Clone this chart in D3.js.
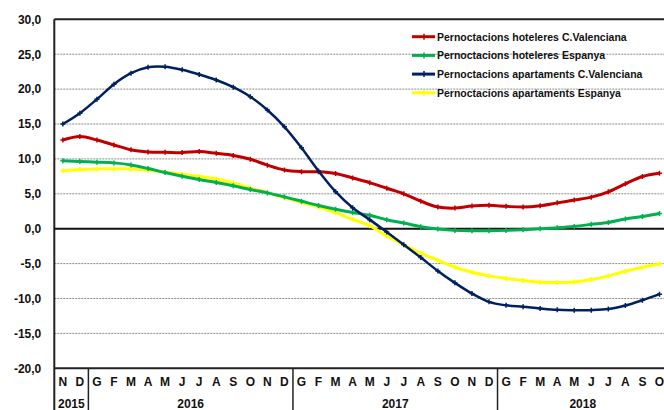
<!DOCTYPE html>
<html><head><meta charset="utf-8">
<script src="https://cdn.jsdelivr.net/npm/d3@7"></script>
<style>body{margin:0;background:#fff}svg{display:block}</style>
</head><body>
<svg id="c" width="664" height="410"></svg>
<script>
const months = ["N","D","G","F","M","A","M","J","J","A","S","O","N","D","G","F","M","A","M","J","J","A","S","O","N","D","G","F","M","A","M","J","J","A","S","O"];
const years = [{label:"2015",n:2},{label:"2016",n:12},{label:"2017",n:12},{label:"2018",n:10}];
const yTicks = [30,25,20,15,10,5,0,-5,-10,-15,-20];
const hotelesCV = [12.7,13.2,12.7,12.0,11.3,11.0,10.95,10.9,11.05,10.8,10.5,9.95,9.1,8.4,8.17,8.15,7.9,7.27,6.6,5.8,5.0,3.95,3.1,2.95,3.24,3.35,3.2,3.1,3.29,3.7,4.1,4.52,5.29,6.43,7.48,7.95];
const hotelesES = [9.72,9.62,9.53,9.43,9.14,8.62,8.05,7.52,7.04,6.62,6.14,5.61,5.13,4.56,3.94,3.32,2.79,2.32,1.92,1.29,0.81,0.29,-0.05,-0.24,-0.29,-0.29,-0.24,-0.14,0.0,0.14,0.33,0.62,0.9,1.38,1.76,2.19];
const apartCV = [15.0,16.55,18.55,20.7,22.28,23.14,23.2,22.76,22.1,21.3,20.27,18.9,17.0,14.6,11.6,8.27,5.3,3.0,1.3,-0.48,-2.29,-4.14,-6.05,-7.76,-9.29,-10.48,-10.98,-11.19,-11.43,-11.62,-11.67,-11.67,-11.52,-11.0,-10.24,-9.38];
const apartES = [8.29,8.48,8.57,8.57,8.57,8.38,8.14,7.81,7.47,7.13,6.55,5.83,5.17,4.45,3.78,3.11,2.3,1.34,0.43,-1.05,-2.29,-3.52,-4.52,-5.52,-6.24,-6.76,-7.12,-7.43,-7.67,-7.71,-7.62,-7.29,-6.76,-6.1,-5.52,-5.05];
const seriesNames = ["Pernoctacions hoteleres C.Valenciana","Pernoctacions hoteleres Espanya","Pernoctacions apartaments C.Valenciana","Pernoctacions apartaments Espanya"];
const seriesColors = ["#C00000","#00B050","#002060","#FFFF00"];
const seriesData = [hotelesCV, hotelesES, apartCV, apartES];

const svg = d3.select("#c");
const L = 54.3, T = 19.3, B = 368.3, R = 668;
const x = d3.scaleBand().domain(d3.range(months.length)).range([L, R]).paddingInner(0).paddingOuter(0);
const y = d3.scaleLinear().domain([-20, 30]).range([B, T]);
const cx = i => x(i) + x.bandwidth()/2;

// gridlines
svg.append("g").selectAll("line").data(yTicks.filter(v => v !== 30 && v !== 0 && v !== -20)).join("line")
  .attr("x1", L).attr("x2", 664).attr("y1", d => y(d)).attr("y2", d => y(d))
  .attr("stroke", "#8c8c8c").attr("stroke-width", 1).attr("stroke-dasharray", "2,1");

// y labels
const yAxis = d3.axisLeft(y).tickValues(yTicks).tickSize(0).tickPadding(13)
  .tickFormat(d => d3.format(".1f")(d).replace(".", ",").replace("−","-"));
const ga = svg.append("g").attr("transform", `translate(${L},0)`).call(yAxis);
ga.select(".domain").remove();
ga.selectAll("text").attr("font-family", "Liberation Sans, Arial, sans-serif").attr("font-weight", "bold")
  .attr("font-size", 12).attr("fill", "#111");

// frame
svg.append("line").attr("x1", L).attr("x2", 664).attr("y1", T).attr("y2", T).attr("stroke", "#222").attr("stroke-width", 2);
svg.append("line").attr("x1", L).attr("x2", 664).attr("y1", B).attr("y2", B).attr("stroke", "#222").attr("stroke-width", 2);
svg.append("line").attr("x1", L).attr("x2", L).attr("y1", T).attr("y2", 410).attr("stroke", "#222").attr("stroke-width", 2);
svg.append("line").attr("x1", L).attr("x2", 664).attr("y1", y(0)).attr("y2", y(0)).attr("stroke", "#111").attr("stroke-width", 2);

// month labels
svg.append("g").selectAll("text").data(months).join("text")
  .attr("x", (d,i) => cx(i)).attr("y", 386).attr("text-anchor", "middle")
  .attr("font-family", "Liberation Sans, Arial, sans-serif").attr("font-weight", "bold").attr("font-size", 12).attr("fill", "#111")
  .text(d => d);

// year separators & labels
let start = 0;
years.forEach((yr, k) => {
  const x0 = x(start), x1 = start + yr.n < months.length ? x(start + yr.n) : R;
  if (k > 0) svg.append("line").attr("x1", x0).attr("x2", x0).attr("y1", B).attr("y2", 410).attr("stroke", "#222").attr("stroke-width", 1.5);
  svg.append("text").attr("x", (x0 + x1)/2).attr("y", 407.5).attr("text-anchor", "middle")
    .attr("font-family", "Liberation Sans, Arial, sans-serif").attr("font-weight", "bold").attr("font-size", 12).attr("fill", "#111")
    .text(yr.label);
  start += yr.n;
});

// series
const line = d3.line().x((d,i) => cx(i)).y(d => y(d)).curve(d3.curveCatmullRom.alpha(0));
const widths = [3, 3, 2.5, 3];
const order = [3, 1, 0, 2];
order.forEach(s => {
  const g = svg.append("g");
  g.append("path").attr("d", line(seriesData[s])).attr("fill", "none").attr("stroke", seriesColors[s]).attr("stroke-width", widths[s]);
  g.selectAll("path.m").data(seriesData[s]).join("path").attr("class", "m")
    .attr("d", (d,i) => `M${cx(i)-2.5},${y(d)}h5M${cx(i)},${y(d)-2.5}v5`)
    .attr("stroke", seriesColors[s]).attr("stroke-width", 1.5);
});

// legend
const leg = svg.append("g");
seriesNames.forEach((n, k) => {
  const yy = 36.7 + k * 18.7;
  leg.append("line").attr("x1", 412).attr("x2", 435).attr("y1", yy).attr("y2", yy).attr("stroke", seriesColors[k]).attr("stroke-width", 3);
  leg.append("path").attr("d", `M${421},${yy}h6M${424},${yy-3}v6`).attr("stroke", seriesColors[k]).attr("stroke-width", 1.5);
  leg.append("text").attr("x", 437).attr("y", yy + 3.8)
    .attr("font-family", "Liberation Sans, Arial, sans-serif").attr("font-weight", "bold").attr("font-size", 10.5).attr("fill", "#111")
    .text(n);
});
</script>
</body></html>
